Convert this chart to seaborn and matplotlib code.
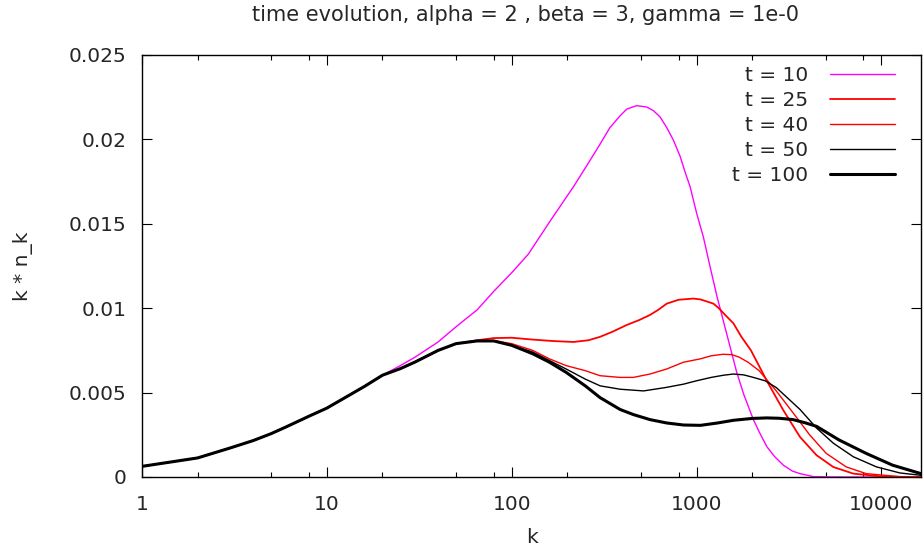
import numpy as np
import pandas as pd
import matplotlib
matplotlib.use("Agg")
import matplotlib.pyplot as plt
import matplotlib.ticker as mticker
import seaborn as sns

# shared part of all curves (small k)
k_common = [1, 2, 3, 4, 5, 6, 8, 10, 13, 16, 20, 25, 30, 40, 50, 65]
y_common = [0.00063, 0.00113, 0.00172, 0.00216, 0.00257, 0.00296, 0.0036,
            0.00408, 0.0048, 0.00537, 0.00603, 0.00642, 0.00681, 0.0075,
            0.0079, 0.00806]

# t = 10 (leaves the common curve after k = 20)
k_t10 = [25, 30, 40, 50, 65, 80, 100, 123, 160, 216, 260, 300, 340, 386,
         420, 475, 538, 585, 635, 690, 750, 815, 867, 923, 1003, 1090, 1185,
         1290, 1400, 1520, 1650, 1800, 2030, 2200, 2400, 2650, 2950, 3300,
         3630, 4300, 6000, 10000, 16384]
y_t10 = [0.0066, 0.0071, 0.0080, 0.0089, 0.0099, 0.0110, 0.0121, 0.0132,
         0.0151, 0.0172, 0.0186, 0.0197, 0.0207, 0.0214, 0.0218, 0.0220,
         0.02192, 0.0217, 0.02133, 0.0207, 0.01995, 0.0190, 0.01807, 0.0172,
         0.0156, 0.0142, 0.01244, 0.0107, 0.0092, 0.0077, 0.0062, 0.0049,
         0.0034, 0.0026, 0.0018, 0.0012, 0.0007, 0.00035, 0.0002, 0.00002,
         0.0, 0.0, 0.0]

# t = 25 (after k = 50)
k_t25 = [65, 80, 100, 130, 170, 216, 260, 300, 350, 418, 490, 560, 620,
         690, 800, 960, 1050, 1100, 1234, 1320, 1400, 1584, 1750, 1970, 2400,
         2950, 3630, 4460, 5500, 7050, 10300, 16384]
y_t25 = [0.0081, 0.00823, 0.00825, 0.00814, 0.00805, 0.0080, 0.0081,
         0.0083, 0.0086, 0.0090, 0.0093, 0.0096, 0.0099, 0.01027, 0.0105,
         0.01057, 0.01052, 0.01045, 0.01027, 0.0100, 0.0097, 0.0091, 0.0083,
         0.0075, 0.0057, 0.00395, 0.00237, 0.00129, 0.00059, 0.0002,
         0.00002, 0.0]

# t = 40 (after k = 65)
k_t40 = [80, 100, 130, 160, 197, 250, 301, 386, 455, 560, 690, 850, 1050,
         1200, 1390, 1550, 1700, 1900, 2180, 2700, 3330, 4090, 5030, 6450,
         8270, 12600, 16384]
y_t40 = [0.00808, 0.0079, 0.0075, 0.0070, 0.0066, 0.0063, 0.0060, 0.0059,
         0.0059, 0.0061, 0.0064, 0.0068, 0.0070, 0.00718, 0.00727, 0.00725,
         0.0071, 0.0068, 0.0063, 0.0051, 0.0038, 0.0025, 0.0014, 0.0006,
         0.0002, 0.00002, 0.0]

# t = 50
k_t50 = [80, 100, 130, 160, 197, 250, 301, 386, 517, 680, 850, 1000, 1200,
         1400, 1584, 1800, 2030, 2350, 2700, 3630, 4460, 5500, 7050, 9400,
         12600, 16384]
y_t50 = [0.00806, 0.0078, 0.0074, 0.0069, 0.0064, 0.0058, 0.0054, 0.0052,
         0.0051, 0.0053, 0.0055, 0.0057, 0.0059, 0.00603, 0.0061, 0.00605,
         0.0059, 0.0057, 0.0053, 0.0040, 0.0029, 0.0020, 0.0012, 0.0006,
         0.00024, 0.0001]

# t = 100
k_t100 = [80, 100, 130, 160, 197, 250, 301, 386, 455, 560, 690, 850, 1050,
          1300, 1584, 2000, 2400, 2800, 3330, 3900, 4460, 5890, 8270, 11500,
          16384]
y_t100 = [0.00806, 0.0078, 0.0073, 0.0068, 0.0062, 0.0054, 0.0047, 0.0040,
          0.0037, 0.0034, 0.0032, 0.00308, 0.00306, 0.0032, 0.00336, 0.00347,
          0.0035, 0.00348, 0.0034, 0.0032, 0.0030, 0.0022, 0.0014, 0.0007,
          0.0002]

sns.set_theme(style="ticks")
plt.rcParams["font.family"] = ["DejaVu Sans"]

FS = 14.5

series = [
    ("t = 10", k_common[:11] + k_t10, y_common[:11] + y_t10, "#ff00ff", 1.0),
    ("t = 25", k_common[:15] + k_t25, y_common[:15] + y_t25, "#ff0000", 1.3),
    ("t = 40", k_common + k_t40, y_common + y_t40, "#ff0000", 1.0),
    ("t = 50", k_common + k_t50, y_common + y_t50, "#000000", 1.0),
    ("t = 100", k_common + k_t100, y_common + y_t100, "#000000", 2.2),
]

fig = plt.figure(figsize=(9.23, 5.49), dpi=100)
ax = fig.add_axes([142 / 923, 1 - 477 / 549, 779 / 923, 422 / 549])

for label, kk, yy, col, lw in series:
    df = pd.DataFrame({"k": kk, "v": yy})
    sns.lineplot(data=df, x="k", y="v", ax=ax, color=col, linewidth=lw,
                 label=label, sort=False, estimator=None)

ax.set_xscale("log")
ax.set_xlim(1, 16384)
ax.set_ylim(0, 0.025)
ax.xaxis.set_major_locator(mticker.FixedLocator([1, 10, 100, 1000, 10000]))
ax.xaxis.set_major_formatter(mticker.FuncFormatter(lambda x, _: f"{x:.0f}"))
ax.xaxis.set_minor_locator(mticker.LogLocator(base=10, subs=[2, 5, 8]))
ax.xaxis.set_minor_formatter(mticker.NullFormatter())
ax.yaxis.set_major_locator(mticker.MultipleLocator(0.005))
ax.yaxis.set_major_formatter(mticker.FuncFormatter(
    lambda y, _: "0" if y == 0 else f"{y:g}"))

for s in ax.spines.values():
    s.set_visible(True)
    s.set_linewidth(1.0)
    s.set_color("black")

ax.tick_params(axis="both", which="both", direction="in", top=True,
               right=True, color="black", width=0.8)
ax.tick_params(axis="both", which="major", length=7, labelsize=FS)
ax.tick_params(axis="both", which="minor", length=3.5)
ax.tick_params(axis="x", which="major", pad=13)
ax.tick_params(axis="y", which="major", pad=11)

ax.set_xlabel("k", fontsize=FS, labelpad=10)
ax.set_ylabel("k * n_k", fontsize=FS, labelpad=26)
fig.text(526 / 923, 1 - 15 / 549, "time evolution, alpha = 2 , beta = 3, gamma = 1e-0",
         ha="center", va="center", fontsize=15)

ax.legend(loc="upper right", bbox_to_anchor=(0.966, 0.975), frameon=False,
          markerfirst=False, fontsize=FS, labelspacing=0.3,
          handlelength=3.2, handletextpad=1.1, borderpad=0, borderaxespad=0)

fig.savefig("out.png", dpi=100)
